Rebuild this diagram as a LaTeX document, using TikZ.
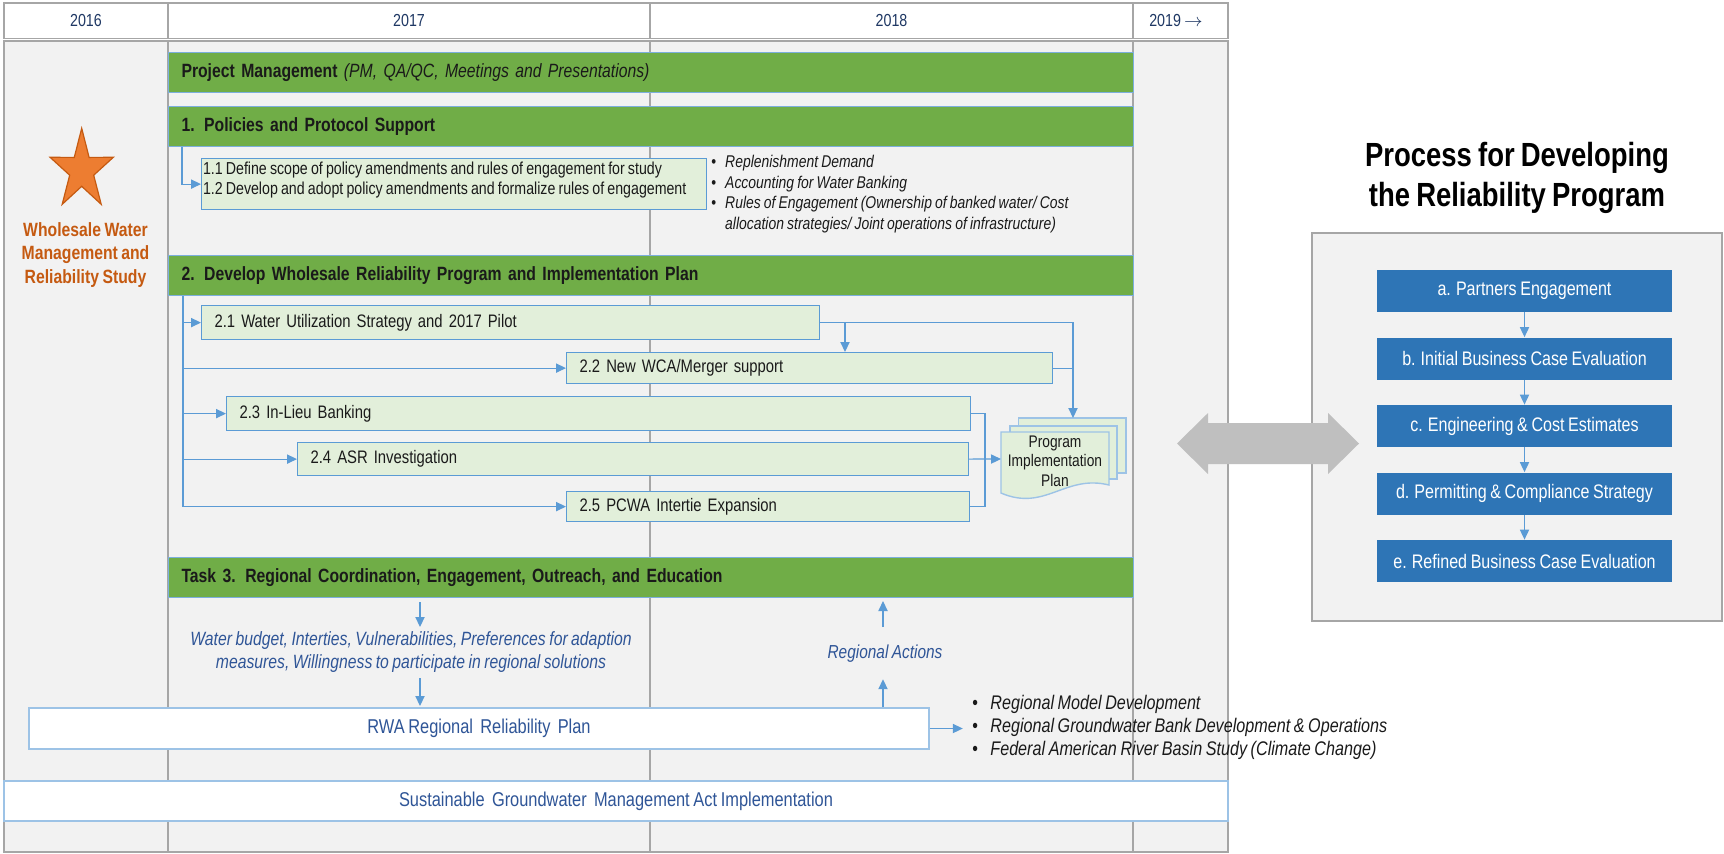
\documentclass[tikz,border=0pt]{standalone}
\usepackage{fontspec}
\setmainfont{Liberation Sans}[FakeStretch=0.82,WordSpace=0.8]
\usetikzlibrary{arrows.meta}
\definecolor{grn}{HTML}{70AD47}
\definecolor{lgrn}{HTML}{E2EFDA}
\definecolor{cblue}{HTML}{5B9BD5}
\definecolor{lblue}{HTML}{9DC3E6}
\definecolor{dblue}{HTML}{2F5597}
\definecolor{hblue}{HTML}{1F3864}
\definecolor{bbox}{HTML}{2E75B6}
\definecolor{gframe}{HTML}{A6A6A6}
\definecolor{bgc}{HTML}{F2F2F2}
\definecolor{orng}{HTML}{ED7D31}
\definecolor{dorng}{HTML}{C55A11}
\definecolor{agray}{HTML}{BFBFBF}
\definecolor{txt}{HTML}{1A1A1A}
\begin{document}
\begin{tikzpicture}[x=0.5pt,y=-0.5pt,
  every node/.style={inner sep=0pt, text=txt},
  yearlbl/.style={text=hblue, font=\fontsize{8.7}{10}\selectfont},
  bar/.style={fill=grn, draw=cblue!80, line width=0.5pt, minimum width=482.5pt, minimum height=20pt,
    text width=469.5pt, align=left, anchor=north west, inner xsep=6.5pt,
    font=\bfseries\fontsize{9.6}{11.5}\selectfont},
  taskbox/.style={fill=lgrn, draw=cblue, line width=0.6pt, anchor=north west, align=left,
    inner xsep=6.5pt, font=\fontsize{9.05}{10.8}\selectfont},
  wbox/.style={fill=white, draw=lblue, line width=0.8pt, text=dblue, font=\fontsize{10}{12}\selectfont},
  conn/.style={draw=cblue, line width=0.6pt},
  arr/.style={conn, -{Triangle[length=5pt,width=4.6pt]}},
  pstep/.style={fill=bbox, text=white, minimum width=147.5pt, minimum height=21pt,
    font=\fontsize{9.8}{11.5}\selectfont},
  docpart/.style={fill=lgrn, draw=lblue, line width=0.7pt}
]
\useasboundingbox (0,0) rectangle (1724,853);
\fill[white] (0,0) rectangle (1724,853);

% table frame
\draw[gframe, line width=0.8pt, fill=white] (4,3) rectangle (1228,38.5);
\draw[gframe, line width=1pt, fill=bgc] (4,40.5) rectangle (1228,852);
\foreach \cx in {168,650,1133}{
  \draw[gframe, line width=0.7pt] (\cx,3) -- (\cx,38.5);
  \draw[gframe, line width=0.7pt] (\cx,40.5) -- (\cx,852);
}
\node[yearlbl] (y16) at (86,21) {2016};
\node[yearlbl] (y17) at (409,21) {2017};
\node[yearlbl] (y18) at (891.5,21) {2018};
\node[yearlbl] (y19) at (1176,21) {2019 $\rightarrow$};

% left label
\filldraw[fill=orng, draw=dorng, line width=0.6pt] (81.7,128.3) -- (89.1,157.4) -- (113.3,157.3) -- (93.7,175.2) -- (101.2,204.3) -- (81.7,186.3) -- (62.2,204.3) -- (69.7,175.2) -- (50.1,157.3) -- (74.3,157.4) -- cycle;
\node[align=center, text=dorng, font=\bfseries\fontsize{9.6}{11.65}\selectfont] (lbl) at (85.5,255) {Wholesale Water\\Management and\\Reliability Study};

% green bars
\node[bar] (pm) at (168,52) {Project Management {\mdseries\itshape (PM, QA/QC, Meetings and Presentations)}};
\node[bar] (bar1) at (168,106) {1. Policies and Protocol Support};
\node[bar] (bar2) at (168,255) {2. Develop Wholesale Reliability Program and Implementation Plan};
\node[bar] (bar3) at (168,557) {Task 3. Regional Coordination, Engagement, Outreach, and Education};

% task 1
\node[taskbox, minimum width=252.5pt, minimum height=25.5pt] (t1) at (201,158) {};
\node[anchor=west, align=left, font=\fontsize{8.65}{9.85}\selectfont] (t1txt) at ([xshift=0.8pt,yshift=2.2pt]t1.west)
  {1.1 Define scope of policy amendments and rules of engagement for study\\1.2 Develop and adopt policy amendments and formalize rules of engagement};
\draw[arr] ([xshift=7pt]bar1.south west) |- (t1.west);
\node[anchor=base west, font=\itshape\fontsize{8.5}{10.25}\selectfont] (b1) at (711,167.8)
  {\begin{tabular}[t]{@{}l@{}l@{}}
   \makebox[6.9pt][l]{\upshape\textbullet} & Replenishment Demand\\
   \makebox[6.9pt][l]{\upshape\textbullet} & Accounting for Water Banking\\
   \makebox[6.9pt][l]{\upshape\textbullet} & Rules of Engagement (Ownership of banked water/ Cost\\
   & allocation strategies/ Joint operations of infrastructure)
   \end{tabular}};

% task 2 boxes
\node[taskbox, text width=296pt, minimum height=17pt] (t21) at (201,305) {2.1 Water Utilization Strategy and 2017 Pilot};
\node[taskbox, text width=230pt, minimum height=15.5pt] (t22) at (566,352) {2.2 New WCA/Merger support};
\node[taskbox, text width=359pt, minimum height=17pt] (t23) at (226,396) {2.3 In-Lieu Banking};
\node[taskbox, text width=322.5pt, minimum height=16.5pt] (t24) at (297,442) {2.4 ASR Investigation};
\node[taskbox, text width=188.5pt, minimum height=15pt] (t25) at (566,491) {2.5 PCWA Intertie Expansion};

% program implementation plan document stack
\filldraw[docpart] (1018.5,418) rectangle (1126,473);
\filldraw[docpart] (1010,426) rectangle (1117,479);
\filldraw[docpart] (1001,432) -- (1109,432) -- (1109,485) .. controls (1065,474) and (1045,512) .. (1001,493) -- cycle;
\node[align=center, font=\fontsize{8.4}{9.75}\selectfont] (doc) at (1055,461) {Program\\Implementation\\Plan};
\coordinate (docT) at (1073,418);
\coordinate (docL) at (1001,459);
\coordinate (vx) at (845,0);
\coordinate (jx) at (985,0);

% task 2 connectors
\coordinate (v2) at ([xshift=7.5pt]bar2.south west);
\draw[arr] (v2) |- (t21.west);
\draw[arr] (v2) |- (t22.west);
\draw[arr] (v2) |- (t23.west);
\draw[arr] (v2) |- (t24.west);
\draw[arr] (v2) |- (t25.west);
\draw[arr] (t21.east) -| (docT);
\draw[arr] (t21.east -| vx) -- (t22.north -| vx);
\draw[conn] (t22.east) -- (t22.east -| docT);
\draw[conn] (t23.east) -| (t24.east -| jx);
\draw[conn] (t25.east) -| (t24.east -| jx);
\draw[arr] (t24.east) -- (docL);

% task 3 area
\node[align=center, text=dblue, font=\itshape\fontsize{9.6}{11.6}\selectfont] (info) at (411,652)
  {Water budget, Interties, Vulnerabilities, Preferences for adaption\\measures, Willingness to participate in regional solutions};
\node[text=dblue, font=\itshape\fontsize{9.4}{11}\selectfont] (ra) at (885,654) {Regional Actions};
\node[wbox, minimum width=450pt, minimum height=20.5pt] (rwa) at (479,728.5) {RWA Regional\ \ Reliability\ \ Plan};
\node[wbox, minimum width=612pt, minimum height=20pt] (sgma) at (616,801) {Sustainable\ \ Groundwater\ \ Management Act Implementation};
\coordinate (d1a) at (420,602); \coordinate (d1b) at (420,627);
\coordinate (d2a) at (420,678); \coordinate (d2b) at (420,706);
\coordinate (u1a) at (883,627); \coordinate (u1b) at (883,601);
\draw[arr] (d1a) -- (d1b);
\draw[arr] (d2a) -- (d2b);
\draw[arr] (u1a) -- (u1b);
\draw[arr] (rwa.north -| u1a) -- ++(0,-28);
\draw[arr] (rwa.east) -- ++(33,0);
\node[anchor=base west, font=\itshape\fontsize{9.85}{11.5}\selectfont] (b2) at (972,709)
  {\begin{tabular}[t]{@{}l@{}l@{}}
   \makebox[9pt][l]{\upshape\textbullet} & Regional Model Development\\
   \makebox[9pt][l]{\upshape\textbullet} & Regional Groundwater Bank Development \& Operations\\
   \makebox[9pt][l]{\upshape\textbullet} & Federal American River Basin Study (Climate Change)
   \end{tabular}};

% right panel
\node[align=center, font=\bfseries\fontsize{16.75}{20}\selectfont, text=black] (title) at (1517,178)
  {Process for Developing\\the Reliability Program};
\draw[gframe, line width=1pt, fill=bgc] (1312,233) rectangle (1722,621);
\node[pstep] (pa) at (1524.5,291) {a. Partners Engagement};
\node[pstep] (pb) at (1524.5,358.5) {b. Initial Business Case Evaluation};
\node[pstep] (pc) at (1524.5,426) {c. Engineering \& Cost Estimates};
\node[pstep] (pd) at (1524.5,493.5) {d. Permitting \& Compliance Strategy};
\node[pstep] (pe) at (1524.5,561) {e. Refined Business Case Evaluation};
\draw[arr] (pa) -- (pb);
\draw[arr] (pb) -- (pc);
\draw[arr] (pc) -- (pd);
\draw[arr] (pd) -- (pe);

% double arrow
\fill[agray] (1177,443.5) -- (1208,413) -- (1208,423) -- (1328,423) -- (1328,413) -- (1359,443.5) -- (1328,474) -- (1328,464) -- (1208,464) -- (1208,474) -- cycle;
\end{tikzpicture}
\end{document}
